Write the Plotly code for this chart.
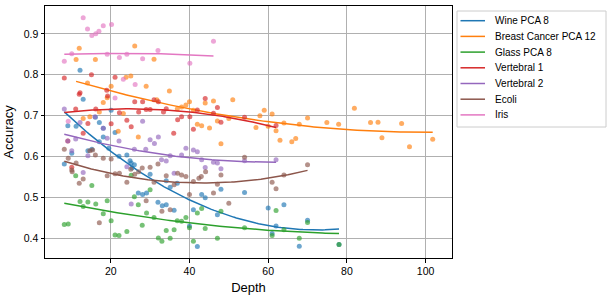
import numpy as np
import plotly.graph_objects as go

names = ["Wine PCA 8", "Breast Cancer PCA 12", "Glass PCA 8", "Vertebral 1", "Vertebral 2", "Ecoli", "Iris"]
colors = ["#1f77b4", "#ff7f0e", "#2ca02c", "#d62728", "#9467bd", "#8c564b", "#e377c2"]

wine_x = [8.2, 9.1, 10.1, 11.2, 12.2, 13.0, 14.2, 15.2, 16.1, 17.1, 17.1, 18.1, 18.1, 19.5, 20.1, 21.1, 22.1, 24.1, 24.9,
          25.2, 25.4, 26.0, 27.0, 28.1, 29.1, 30.0, 32.0, 33.1, 34.1, 34.1, 35.1, 36.1, 36.9, 40.0, 41.0, 42.0, 43.1, 44.0,
          47.1, 48.0, 54.0, 60.0, 61.0, 62.0, 64.0, 67.9, 70.0, 78.0]
wine_y = [0.582, 0.675, 0.608, 0.674, 0.811, 0.740, 0.614, 0.618, 0.696, 0.683, 0.636, 0.669, 0.648, 0.620, 0.713, 0.659,
          0.601, 0.604, 0.590, 0.584, 0.572, 0.580, 0.511, 0.507, 0.511, 0.557, 0.488, 0.480, 0.541, 0.482, 0.525, 0.469,
          0.535, 0.430, 0.470, 0.380, 0.507, 0.499, 0.458, 0.520, 0.512, 0.474, 0.412, 0.430, 0.482, 0.381, 0.444, 0.385]

breast_x = [11.2, 12.0, 13.0, 14.1, 14.7, 16.1, 17.1, 18.1, 19.1, 20.1, 21.9, 23.2, 23.9, 25.1, 26.1, 27.0, 29.0, 31.0,
            31.7, 34.9, 36.9, 38.0, 39.1, 40.0, 41.0, 42.0, 43.1, 44.0, 45.1, 46.1, 47.1, 48.0, 50.0, 51.0, 56.9, 57.9,
            59.0, 60.0, 61.0, 62.0, 63.0, 64.0, 66.0, 67.0, 67.9, 70.0, 74.9, 77.9, 81.9, 86.0, 87.9, 88.9, 93.9, 95.9,
            101.8]
breast_y = [0.837, 0.865, 0.693, 0.780, 0.697, 0.837, 0.709, 0.732, 0.744, 0.772, 0.662, 0.705, 0.794, 0.797, 0.870,
            0.648, 0.772, 0.838, 0.739, 0.760, 0.716, 0.721, 0.726, 0.734, 0.713, 0.679, 0.675, 0.731, 0.670, 0.736,
            0.687, 0.631, 0.693, 0.739, 0.671, 0.700, 0.713, 0.674, 0.704, 0.663, 0.640, 0.682, 0.636, 0.644, 0.679,
            0.694, 0.683, 0.679, 0.718, 0.683, 0.684, 0.646, 0.681, 0.624, 0.642]

glass_x = [8.2, 9.2, 11.1, 12.2, 13.0, 14.2, 15.2, 16.2, 18.1, 19.1, 20.1, 21.1, 22.1, 24.1, 25.2, 26.0, 27.0, 28.0,
           29.1, 30.0, 31.0, 32.1, 33.0, 34.1, 35.1, 36.1, 36.9, 38.0, 39.1, 40.0, 41.0, 42.0, 43.1, 44.0, 47.1, 48.0,
           54.0, 61.0, 62.0, 64.0, 67.9, 70.0, 78.0]
glass_y = [0.434, 0.435, 0.553, 0.490, 0.478, 0.489, 0.529, 0.484, 0.460, 0.492, 0.443, 0.408, 0.407, 0.417, 0.554,
           0.502, 0.482, 0.432, 0.462, 0.519, 0.451, 0.401, 0.393, 0.419, 0.400, 0.421, 0.443, 0.442, 0.451, 0.426,
           0.393, 0.462, 0.473, 0.424, 0.400, 0.466, 0.426, 0.407, 0.468, 0.421, 0.400, 0.439, 0.385]

vert1_x = [8.2, 9.1, 10.1, 11.1, 12.0, 12.2, 13.0, 14.2, 15.1, 16.2, 19.0, 19.2, 20.1, 21.1, 22.2, 24.1, 25.2, 26.1,
           27.1, 28.1, 29.0, 30.0, 31.0, 32.1, 33.4, 34.1, 36.0, 37.0, 38.0, 40.1, 41.0, 42.0, 44.0, 46.1, 47.1, 48.0,
           54.0, 62.0]
vert1_y = [0.792, 0.638, 0.574, 0.716, 0.752, 0.756, 0.657, 0.681, 0.800, 0.716, 0.762, 0.748, 0.680, 0.794, 0.707,
           0.689, 0.673, 0.734, 0.709, 0.734, 0.715, 0.715, 0.739, 0.734, 0.709, 0.717, 0.657, 0.690, 0.697, 0.697,
           0.667, 0.714, 0.742, 0.706, 0.720, 0.684, 0.696, 0.676]

vert2_x = [8.2, 9.1, 10.1, 11.1, 12.2, 13.0, 14.2, 16.0, 18.1, 19.1, 22.1, 24.1, 25.2, 26.0, 28.1, 28.9, 30.0, 31.1,
           32.1, 32.9, 34.1, 35.1, 36.1, 38.0, 39.1, 41.0, 42.0, 43.1, 44.0, 46.1, 47.1, 48.0, 54.0, 62.0]
vert2_y = [0.716, 0.638, 0.614, 0.643, 0.683, 0.561, 0.602, 0.697, 0.669, 0.645, 0.638, 0.575, 0.484, 0.618, 0.686,
           0.618, 0.641, 0.632, 0.648, 0.592, 0.589, 0.602, 0.559, 0.604, 0.620, 0.616, 0.612, 0.592, 0.573, 0.586,
           0.584, 0.570, 0.590, 0.592]

ecoli_x = [8.2, 9.2, 10.1, 10.2, 11.2, 12.0, 13.0, 14.7, 15.4, 16.1, 17.1, 18.1, 19.1, 20.1, 21.1, 22.2, 24.1, 25.1,
           26.1, 27.1, 28.0, 29.0, 30.0, 31.0, 32.0, 33.0, 34.1, 35.1, 36.1, 37.0, 38.0, 39.1, 40.0, 41.0, 42.4, 43.0,
           44.1, 46.1, 47.1, 48.0, 50.0, 54.0, 61.0, 62.0, 64.0, 70.0]
ecoli_y = [0.618, 0.596, 0.567, 0.563, 0.584, 0.535, 0.545, 0.614, 0.616, 0.604, 0.438, 0.596, 0.553, 0.594, 0.558,
           0.559, 0.537, 0.569, 0.557, 0.563, 0.572, 0.492, 0.574, 0.537, 0.582, 0.466, 0.553, 0.470, 0.531, 0.559,
           0.555, 0.551, 0.507, 0.539, 0.547, 0.551, 0.563, 0.511, 0.532, 0.555, 0.486, 0.598, 0.537, 0.521, 0.555,
           0.580]

iris_x = [8.2, 9.2, 10.1, 13.0, 14.1, 15.2, 16.2, 17.0, 18.1, 19.1, 20.2, 21.1, 22.2, 23.2, 24.1, 26.2, 28.1, 32.0,
          40.1, 46.1]
iris_y = [0.833, 0.686, 0.851, 0.939, 0.912, 0.896, 0.900, 0.906, 0.920, 0.850, 0.923, 0.743, 0.842, 0.789, 0.850,
          0.776, 0.839, 0.859, 0.828, 0.882]

series = [(wine_x, wine_y), (breast_x, breast_y), (glass_x, glass_y), (vert1_x, vert1_y),
          (vert2_x, vert2_y), (ecoli_x, ecoli_y), (iris_x, iris_y)]

fig = go.Figure()
for name, color, (xs, ys) in zip(names, colors, series):
    xs = np.array(xs)
    ys = np.array(ys)
    fig.add_trace(go.Scatter(x=xs, y=ys, mode="markers", name=name, showlegend=False,
                             marker=dict(size=5, color=color, opacity=0.65, line=dict(width=0)),
                             hoverinfo="skip"))
    coef = np.polyfit(xs, ys, 2)
    xf = np.linspace(xs.min(), xs.max(), 100)
    fig.add_trace(go.Scatter(x=xf, y=np.polyval(coef, xf), mode="lines", name=name, showlegend=False,
                             line=dict(color=color, width=1.5)))

# plot area in pixels: left 45, right 452, top 6, bottom 258
L, R, T, B = 45, 452, 6, 258
W, H = R - L, B - T


def px_x(p):
    return (p - L) / W


def px_y(p):
    return 1 - (p - T) / H


shapes = [dict(type="rect", xref="paper", yref="paper", x0=px_x(457), x1=px_x(606), y0=px_y(127), y1=px_y(11),
               line=dict(color="#cccccc", width=1), fillcolor="white", layer="above")]
annotations = []
for i, (name, color) in enumerate(zip(names, colors)):
    cy = 20.7 + 15.7 * i
    shapes.append(dict(type="line", xref="paper", yref="paper", x0=px_x(460.5), x1=px_x(485),
                       y0=px_y(cy), y1=px_y(cy), line=dict(color=color, width=1.5), layer="above"))
    annotations.append(dict(text=name, xref="paper", yref="paper", x=px_x(492.5), y=px_y(cy),
                            xanchor="left", yanchor="middle", showarrow=False, font=dict(size=10)))

axis_common = dict(showgrid=True, gridcolor="#b0b0b0", gridwidth=1, showline=True, linecolor="black",
                   linewidth=1, mirror=True, ticks="outside", ticklen=3.5, tickcolor="black", zeroline=False,
                   tickfont=dict(size=10.5), automargin=False)

fig.update_layout(
    width=610, height=300,
    margin=dict(l=L, r=610 - R, t=T, b=300 - B),
    paper_bgcolor="white", plot_bgcolor="white",
    font=dict(family="Liberation Sans, Arial, sans-serif", size=10.5, color="black"),
    xaxis=dict(range=[3.3, 106.7], tickvals=[20, 40, 60, 80, 100],
               title=dict(text="Depth", font=dict(size=13), standoff=6), **axis_common),
    yaxis=dict(range=[0.352, 0.968], tickvals=[0.4, 0.5, 0.6, 0.7, 0.8, 0.9], tickformat=".1f",
               title=dict(text="Accuracy", font=dict(size=13), standoff=7), **axis_common),
    shapes=shapes,
    annotations=annotations,
    showlegend=False,
)

fig.write_html("out.html", config={"displayModeBar": False},
               post_script="document.body.style.margin='0';document.body.style.overflow='hidden';")
